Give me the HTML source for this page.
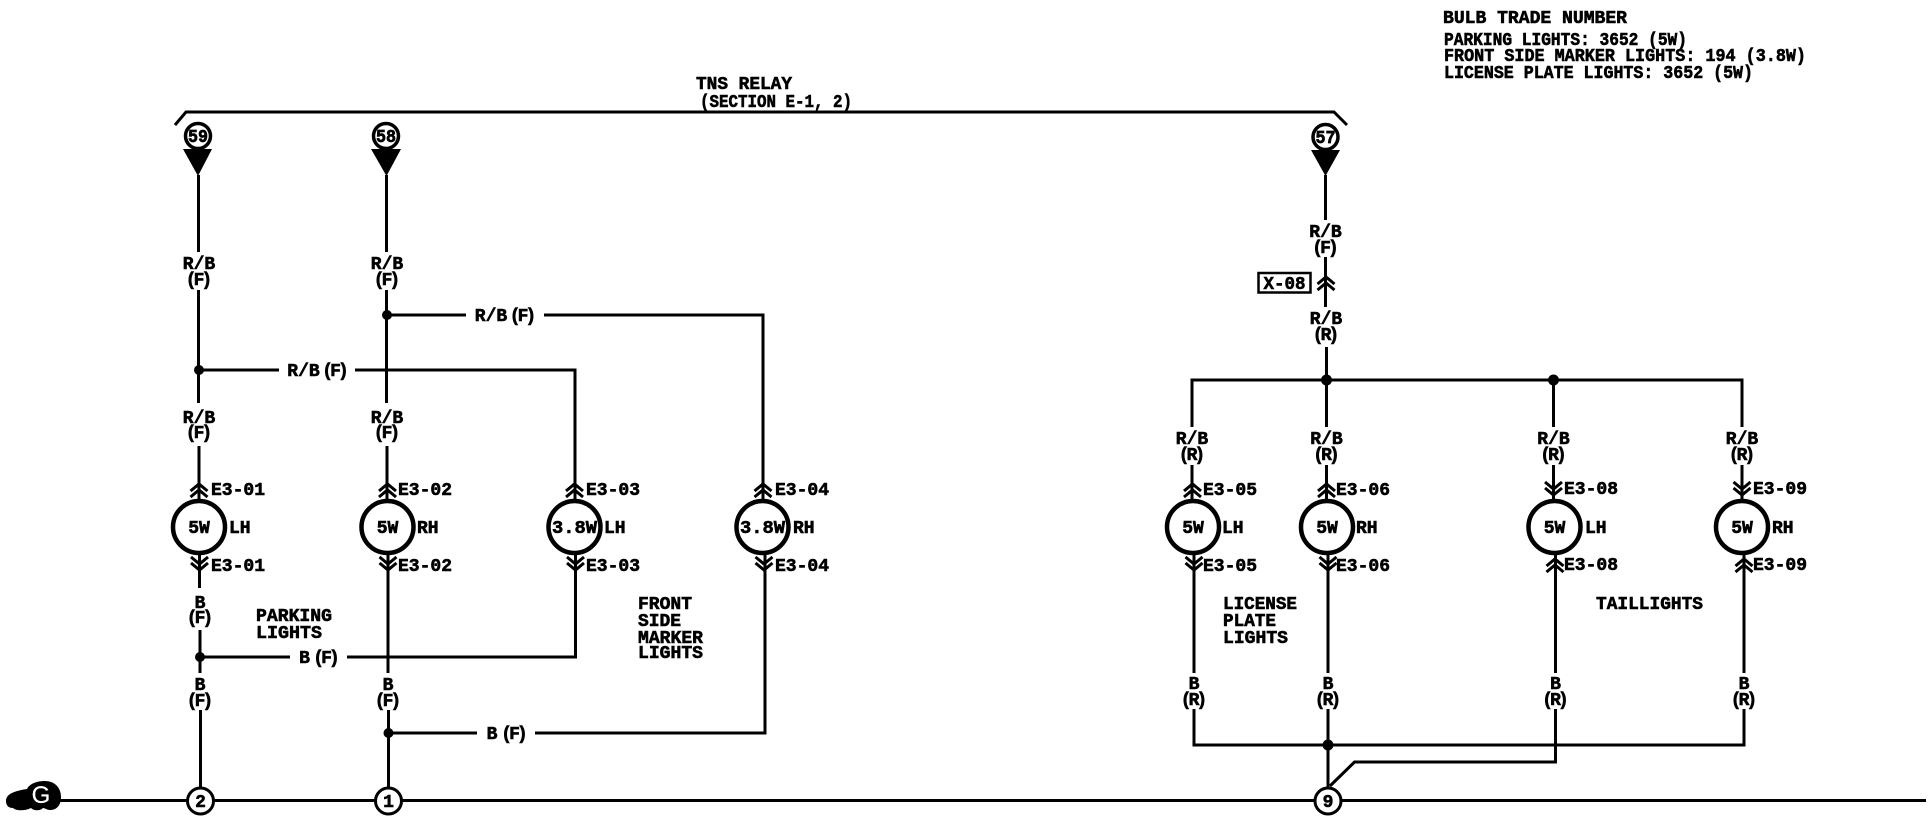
<!DOCTYPE html>
<html>
<head>
<meta charset="utf-8">
<style>
html,body{margin:0;padding:0;background:#fff;width:1930px;height:832px;overflow:hidden}
svg{display:block}
text{font-family:"Liberation Mono",monospace;font-weight:bold;font-size:18px;fill:#000;stroke:#000;stroke-width:.6}
.m{text-anchor:middle}
.p{letter-spacing:-3px;transform:translateX(-1.5px)}
.n{font-size:18px;stroke-width:.7}
.w{fill:none;stroke:#000;stroke-width:3}
.b{fill:#fff;stroke:#000;stroke-width:4.5}
.g{fill:#fff;stroke:#000;stroke-width:3}
.c{fill:#fff;stroke:#000;stroke-width:3.5}
</style>
</head>
<body>
<svg width="1930" height="832" viewBox="0 0 1930 832" xmlns="http://www.w3.org/2000/svg">
<defs>
<path id="up" d="M-8.500 5L0 -2L8.500 5M-8.500 11L0 4L8.500 11" fill="none" stroke="#000" stroke-width="3"/>
<path id="dn" d="M-8.500 -5L0 2L8.500 -5M-8.500 -11L0 -4L8.500 -11" fill="none" stroke="#000" stroke-width="3"/>
</defs>

<!-- top-right notes -->
<text x="1443" y="23" textLength="184" lengthAdjust="spacingAndGlyphs">BULB TRADE NUMBER</text>
<text x="1444" y="45" textLength="243" lengthAdjust="spacingAndGlyphs">PARKING LIGHTS: 3652 (5W)</text>
<text x="1444" y="61" textLength="362" lengthAdjust="spacingAndGlyphs">FRONT SIDE MARKER LIGHTS: 194 (3.8W)</text>
<text x="1444" y="78" textLength="309" lengthAdjust="spacingAndGlyphs">LICENSE PLATE LIGHTS: 3652 (5W)</text>

<!-- relay bracket -->
<path class="w" d="M175 125L186 112L1334 112L1347 125"/>
<text x="696" y="89" textLength="96" lengthAdjust="spacingAndGlyphs">TNS RELAY</text>
<text x="700" y="107" textLength="152" lengthAdjust="spacingAndGlyphs">(SECTION E-1, 2)</text>

<!-- terminals -->
<circle class="c" cx="198" cy="136" r="12.500"/>
<text class="m n" x="198" y="142" textLength="20" lengthAdjust="spacingAndGlyphs">59</text>
<path d="M183 149H212L198 176Z"/>
<circle class="c" cx="386" cy="136" r="12.500"/>
<text class="m n" x="386" y="142" textLength="20" lengthAdjust="spacingAndGlyphs">58</text>
<path d="M371 149H401L386.500 176Z"/>
<circle class="c" cx="1325.500" cy="137" r="12.500"/>
<text class="m n" x="1325.500" y="143" textLength="20" lengthAdjust="spacingAndGlyphs">57</text>
<path d="M1311 150H1340L1325.500 176Z"/>

<!-- wires : left group -->
<path class="w" d="M198.500 175V252M198.500 290V403M199 446V527M199.500 527V588M200 630V673M200.500 710V787"/>
<path class="w" d="M386.500 175V252M386.500 290V403M387 446V527M388 527V673M388.500 710V787"/>
<path class="w" d="M199 370H279M355 370H575V527"/>
<path class="w" d="M387 315H466M544 315H763V527"/>
<path class="w" d="M575.500 527V657H347M290 657H200"/>
<path class="w" d="M765 527V733H535M477 733H389"/>
<!-- right group -->
<path class="w" d="M1325.500 175V220M1325.500 257V307M1326.500 347V380"/>
<path class="w" d="M1192 427V380H1742V427"/>
<path class="w" d="M1192 465V527M1326.500 380V427M1326.500 465V527M1553.500 380V427M1553.500 465V527M1742 465V527"/>
<path class="w" d="M1194 527V673M1328 527V673M1555.500 527V673M1744 527V673"/>
<path class="w" d="M1194 709V745H1744V709M1328 709V787M1555.500 709V762H1354.500L1330 786"/>
<path class="w" d="M60 800.500H1926"/>

<!-- junctions -->
<circle cx="199" cy="370" r="5"/><circle cx="387" cy="315" r="5"/>
<circle cx="200" cy="657" r="5"/><circle cx="388.500" cy="733" r="5"/>
<circle cx="1326.500" cy="380" r="5.500"/><circle cx="1553.500" cy="380" r="5.500"/>
<circle cx="1328" cy="745" r="5.500"/>

<!-- bulbs -->
<circle class="b" cx="199" cy="527" r="26"/><text class="m" x="199" y="533">5W</text>
<circle class="b" cx="387.500" cy="527" r="26"/><text class="m" x="387.500" y="533">5W</text>
<circle class="b" cx="574.500" cy="527" r="26"/><text class="m" x="574.500" y="533" textLength="45" lengthAdjust="spacingAndGlyphs">3.8W</text>
<circle class="b" cx="762.500" cy="527" r="26"/><text class="m" x="762.500" y="533" textLength="45" lengthAdjust="spacingAndGlyphs">3.8W</text>
<circle class="b" cx="1193" cy="527" r="26"/><text class="m" x="1193" y="533">5W</text>
<circle class="b" cx="1327" cy="527" r="26"/><text class="m" x="1327" y="533">5W</text>
<circle class="b" cx="1554.500" cy="527" r="26"/><text class="m" x="1554.500" y="533">5W</text>
<circle class="b" cx="1742" cy="527" r="26"/><text class="m" x="1742" y="533">5W</text>
<text x="229" y="533">LH</text><text x="417" y="533">RH</text><text x="604" y="533">LH</text><text x="793" y="533">RH</text>
<text x="1222" y="533">LH</text><text x="1356" y="533">RH</text><text x="1585" y="533">LH</text><text x="1772" y="533">RH</text>

<!-- chevrons -->
<use href="#up" x="199" y="486"/><use href="#dn" x="199.500" y="568"/>
<use href="#up" x="387.500" y="486"/><use href="#dn" x="388" y="568"/>
<use href="#up" x="574.500" y="486"/><use href="#dn" x="575.500" y="568"/>
<use href="#up" x="763" y="486"/><use href="#dn" x="764" y="568"/>
<use href="#up" x="1192.500" y="486"/><use href="#dn" x="1194" y="568"/>
<use href="#up" x="1326.500" y="486"/><use href="#dn" x="1328" y="568"/>
<use href="#dn" x="1553.500" y="493"/><use href="#up" x="1555" y="561"/>
<use href="#dn" x="1742" y="493"/><use href="#up" x="1744" y="561"/>
<use href="#up" x="1326" y="279"/>

<!-- connector labels -->
<text x="211" y="495">E3-01</text><text x="211" y="571">E3-01</text>
<text x="398" y="495">E3-02</text><text x="398" y="571">E3-02</text>
<text x="586" y="495">E3-03</text><text x="586" y="571">E3-03</text>
<text x="775" y="495">E3-04</text><text x="775" y="571">E3-04</text>
<text x="1203" y="495">E3-05</text><text x="1203" y="571">E3-05</text>
<text x="1336" y="495">E3-06</text><text x="1336" y="571">E3-06</text>
<text x="1564" y="494">E3-08</text><text x="1564" y="570">E3-08</text>
<text x="1753" y="494">E3-09</text><text x="1753" y="570">E3-09</text>

<!-- X-08 box -->
<rect x="1258.500" y="273" width="52" height="19.500" fill="#fff" stroke="#000" stroke-width="2.500"/>
<text class="m" x="1284.500" y="289" textLength="42" lengthAdjust="spacingAndGlyphs">X-08</text>

<!-- wire labels, left -->
<text class="m" x="199" y="269">R/B</text><text class="m p" x="199" y="285">(F)</text>
<text class="m" x="387" y="269">R/B</text><text class="m p" x="387" y="285">(F)</text>
<text class="m" x="199" y="423">R/B</text><text class="m p" x="199" y="438">(F)</text>
<text class="m" x="387" y="423">R/B</text><text class="m p" x="387" y="438">(F)</text>
<text class="m" x="303.500" y="376">R/B</text><text class="m p" x="335.500" y="376">(F)</text>
<text class="m" x="491" y="321">R/B</text><text class="m p" x="523" y="321">(F)</text>
<text class="m" x="200" y="608">B</text><text class="m p" x="200" y="623">(F)</text>
<text class="m" x="200" y="690">B</text><text class="m p" x="200" y="706">(F)</text>
<text class="m" x="388" y="690">B</text><text class="m p" x="388" y="706">(F)</text>
<text class="m" x="304.500" y="663">B</text><text class="m p" x="326.500" y="663">(F)</text>
<text class="m" x="492" y="739">B</text><text class="m p" x="514.500" y="739">(F)</text>

<!-- wire labels, right -->
<text class="m" x="1325.500" y="237">R/B</text><text class="m p" x="1325.500" y="253">(F)</text>
<text class="m" x="1326" y="324">R/B</text><text class="m p" x="1326" y="340">(R)</text>
<text class="m" x="1192" y="444">R/B</text><text class="m p" x="1192" y="460">(R)</text>
<text class="m" x="1326.500" y="444">R/B</text><text class="m p" x="1326.500" y="460">(R)</text>
<text class="m" x="1553.500" y="444">R/B</text><text class="m p" x="1553.500" y="460">(R)</text>
<text class="m" x="1742" y="444">R/B</text><text class="m p" x="1742" y="460">(R)</text>
<text class="m" x="1194" y="689">B</text><text class="m p" x="1194" y="705">(R)</text>
<text class="m" x="1328" y="689">B</text><text class="m p" x="1328" y="705">(R)</text>
<text class="m" x="1555.500" y="689">B</text><text class="m p" x="1555.500" y="705">(R)</text>
<text class="m" x="1744" y="689">B</text><text class="m p" x="1744" y="705">(R)</text>

<!-- group titles -->
<text x="256" y="621" textLength="76" lengthAdjust="spacingAndGlyphs">PARKING</text>
<text x="256" y="638" textLength="66" lengthAdjust="spacingAndGlyphs">LIGHTS</text>
<text x="638" y="609" textLength="54" lengthAdjust="spacingAndGlyphs">FRONT</text>
<text x="638" y="626" textLength="43" lengthAdjust="spacingAndGlyphs">SIDE</text>
<text x="638" y="643" textLength="65" lengthAdjust="spacingAndGlyphs">MARKER</text>
<text x="638" y="658" textLength="65" lengthAdjust="spacingAndGlyphs">LIGHTS</text>
<text x="1223" y="609" textLength="74" lengthAdjust="spacingAndGlyphs">LICENSE</text>
<text x="1223" y="626" textLength="53" lengthAdjust="spacingAndGlyphs">PLATE</text>
<text x="1223" y="643" textLength="65" lengthAdjust="spacingAndGlyphs">LIGHTS</text>
<text x="1596" y="609" textLength="107" lengthAdjust="spacingAndGlyphs">TAILLIGHTS</text>

<!-- ground points -->
<circle class="g" cx="200.500" cy="801" r="13"/><text class="m" x="200.500" y="807">2</text>
<circle class="g" cx="388.500" cy="801" r="13"/><text class="m" x="388.500" y="807">1</text>
<circle class="g" cx="1328" cy="801" r="13"/><text class="m" x="1328" y="807">9</text>

<!-- ground symbol -->
<path d="M6 801C6 794 14 791 27 789C30 783 38 781 45 781C55 781 61 788 61 797C61 805 57 810 50 810C47 810 45 808 43 808C40 811 34 811 31 808C25 811 16 811 13 808C8 808 6 805 6 801Z"/>
<text class="m" x="41" y="803" style="font-family:'Liberation Sans',sans-serif;font-weight:normal;font-size:24px;fill:#fff;stroke:#fff;stroke-width:.2">G</text>
</svg>
</body>
</html>
